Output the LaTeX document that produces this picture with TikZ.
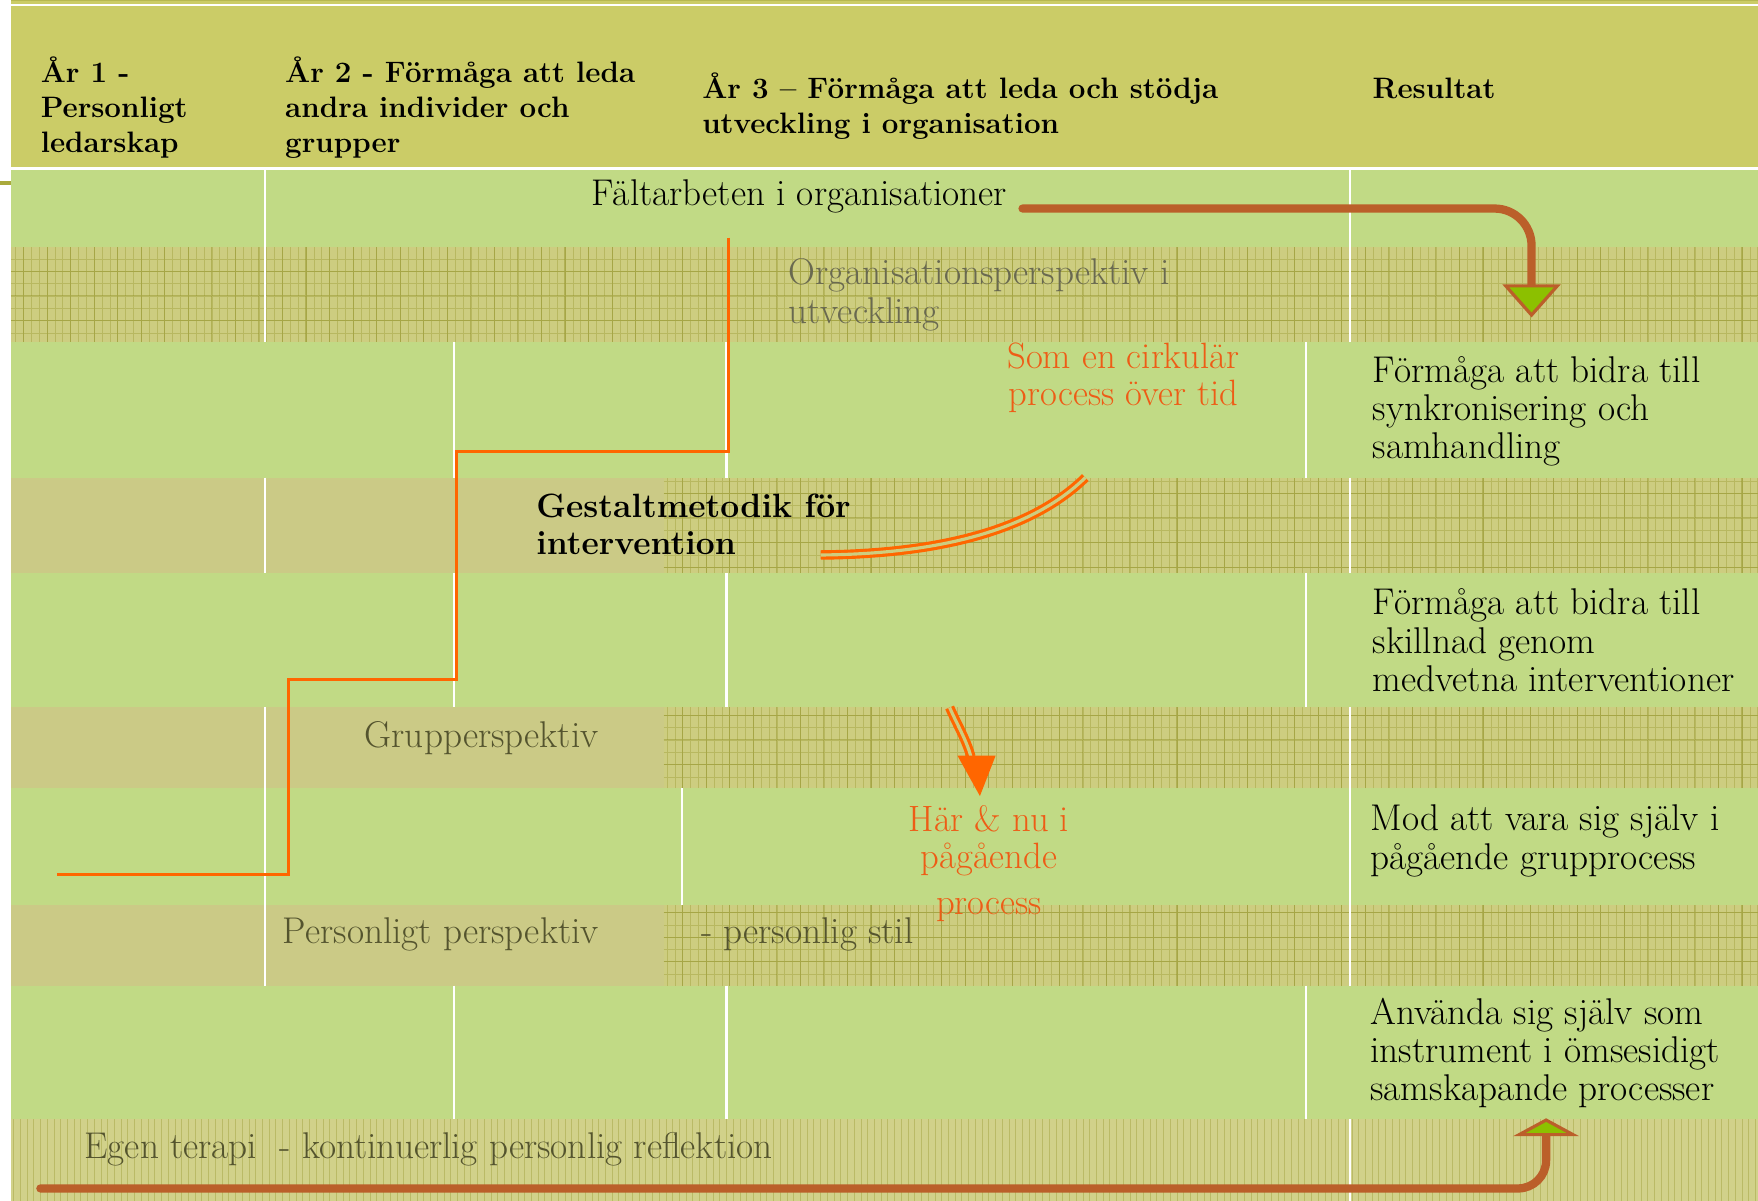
\documentclass[tikz,border=0pt]{standalone}
\usepackage{tikz}
\usetikzlibrary{arrows.meta, positioning}

\definecolor{headolive}{RGB}{203,204,103}
\definecolor{rowgreen}{RGB}{193,218,133}
\definecolor{rowkhaki}{RGB}{203,202,134}
\definecolor{hatchbase}{RGB}{205,205,128}
\definecolor{hatchline}{RGB}{150,150,45}
\definecolor{markolive}{RGB}{170,170,60}
\definecolor{pathbrown}{RGB}{187,95,42}
\definecolor{tipgreen}{RGB}{140,192,0}
\definecolor{stepor}{RGB}{255,102,0}
\definecolor{labelor}{RGB}{238,92,22}
\definecolor{persgray}{RGB}{84,84,46}
\definecolor{orggray}{RGB}{105,105,80}

\tikzset{
  hatch/.style={draw=hatchline, line width=0.3pt, opacity=0.38},
  hatchmajor/.style={draw=hatchline, line width=0.55pt, opacity=0.5},
  sep/.style={draw=white, line width=1.1pt},
  headtext/.style={anchor=west, align=left, inner sep=0pt, font=\bfseries\fontsize{15}{17.9}\selectfont},
  bodytext/.style={anchor=west, align=left, inner sep=0pt, font=\fontsize{18.9}{19.4}\selectfont},
  perstext/.style={bodytext, text=persgray},
  ortext/.style={align=center, inner sep=0pt, text=labelor, font=\fontsize{18.6}{18.8}\selectfont},
  thickpath/.style={draw=pathbrown, line width=4.2pt, line cap=round},
  tipbox/.style={fill=tipgreen, draw=pathbrown, line width=1.6pt, line join=miter},
  steppath/.style={draw=stepor, line width=1.4pt},
  ordouble/.style={draw=stepor, double=hatchbase, double distance=1.6pt, line width=1.6pt}
}

\begin{document}
\begin{tikzpicture}[x=0.02cm, y=-0.02cm]
      \useasboundingbox (0,0) rectangle (1568,1071);

      % Header band
      \fill[headolive] (10,0) rectangle (1568,149);
      \draw[white, line width=0.6pt] (10,4.5) -- (1568,4.5);
      \fill[markolive] (0,161) rectangle (10,165);

      % Plain rows
      \fill[rowgreen] (10,152) rectangle (1568,220);
      \fill[rowgreen] (10,305) rectangle (1568,426);
      \fill[rowgreen] (10,511) rectangle (1568,631);
      \fill[rowgreen] (10,703) rectangle (1568,807);
      \fill[rowgreen] (10,879) rectangle (1568,998);

      % Perspective rows
      \fill[hatchbase] (10,220) rectangle (1568,305);
      \fill[rowkhaki] (10,426) rectangle (592,511);
      \fill[hatchbase] (592,426) rectangle (1568,511);
      \fill[rowkhaki] (10,631) rectangle (592,703);
      \fill[hatchbase] (592,631) rectangle (1568,703);
      \fill[rowkhaki] (10,807) rectangle (592,879);
      \fill[hatchbase] (592,807) rectangle (1568,879);
      \fill[hatchbase!92!white] (10,998) rectangle (1568,1071);

      % Hatching
      \draw[hatch, xstep=0.14cm, ystep=0.22cm] (10,220) grid (1568,305);
      \draw[hatchmajor, xstep=0.42cm, ystep=0.44cm] (10,220) grid (1568,305);
      \draw[hatch, xstep=0.14cm, ystep=0.22cm] (592,426) grid (1568,511);
      \draw[hatchmajor, xstep=0.42cm, ystep=0.44cm] (592,426) grid (1568,511);
      \draw[hatch, xstep=0.14cm, ystep=0.22cm] (592,631) grid (1568,703);
      \draw[hatchmajor, xstep=0.42cm, ystep=0.44cm] (592,631) grid (1568,703);
      \draw[hatch, xstep=0.14cm, ystep=0.22cm] (592,807) grid (1568,879);
      \draw[hatchmajor, xstep=0.42cm, ystep=0.44cm] (592,807) grid (1568,879);
      \draw[hatch, xstep=0.12cm, ystep=50cm] (10,998) grid (1568,1071);

      % Column separators
      \draw[sep] (236,152) -- (236,305);
      \draw[sep] (1204,152) -- (1204,305);
      \draw[sep] (405,305) -- (405,426);
      \draw[sep] (648,305) -- (648,426);
      \draw[sep] (1165,305) -- (1165,426);
      \draw[sep] (236,426) -- (236,511);
      \draw[sep] (1204,426) -- (1204,511);
      \draw[sep] (405,511) -- (405,631);
      \draw[sep] (648,511) -- (648,631);
      \draw[sep] (1165,511) -- (1165,631);
      \draw[sep] (236,631) -- (236,807);
      \draw[sep] (608,703) -- (608,807);
      \draw[sep] (1204,631) -- (1204,879);
      \draw[sep] (236,807) -- (236,879);
      \draw[sep] (405,879) -- (405,998);
      \draw[sep] (648,879) -- (648,998);
      \draw[sep] (1165,879) -- (1165,998);
      \draw[sep] (1204,998) -- (1204,1071);

      % Header labels
      \node[headtext] (yr1) at (36,96) {År 1 -\\Personligt\\ledarskap};
      \node[headtext] (yr2) at (254,96) {År 2 - Förmåga att leda\\andra individer och\\grupper};
      \node[headtext] (yr3) at (626,95) {År 3 – Förmåga att leda och stödja\\utveckling i organisation};
      \node[headtext] (result) at (1224,79) {Resultat};

      % Row labels
      \node[bodytext] (falt) at (527,175) {Fältarbeten i organisationer};
      \node[bodytext, text=orggray] (orgper) at (703,263) {Organisationsperspektiv i\\utveckling};
      \node[bodytext, font=\bfseries\fontsize{17.1}{18.8}\selectfont] (gestalt) at (478,468) {Gestaltmetodik för\\intervention};
      \node[perstext] (grpper) at (325,658) {Grupperspektiv};
      \node[perstext] (persper) at (252,833) {Personligt perspektiv};
      \node[perstext] (stil) at (625,833) {- personlig stil};
      \node[perstext] (egen) at (75,1025) {Egen terapi~ - kontinuerlig personlig reflektion};

      % Results
      \node[bodytext] (res1) at (1224,367) {Förmåga att bidra till\\synkronisering och\\samhandling};
      \node[bodytext] (res2) at (1224,571) {Förmåga att bidra till\\skillnad genom\\medvetna interventioner};
      \node[bodytext] (res3) at (1222,750) {Mod att vara sig själv i\\pågående grupprocess};
      \node[bodytext] (res4) at (1222,939) {Använda sig själv som\\instrument i ömsesidigt\\samskapande processer};

      % Process labels
      \node[ortext] (circ) at (1002,337) {Som en cirkulär\\process över tid};
      \node[ortext] (harnu) at (882,770) {Här \& nu i\\pågående\\[4.5pt]process};

      % Define points
      \coordinate (fstart) at (912,186);
      \coordinate (fbend) at (1366,186);
      \coordinate (fbase) at (1366,255);
      \coordinate (ftip) at (1366,281);
      \coordinate (estart) at (36,1060);
      \coordinate (ebend) at (1379,1060);
      \coordinate (ebase) at (1379,1012);
      \coordinate (etip) at (1379,999);
      \coordinate (s1) at (650,212);
      \coordinate (s3) at (407,403);
      \coordinate (s5) at (257,606);
      \coordinate (s7) at (51,780);
      \coordinate (c1) at (732,495);
      \coordinate (c2) at (968,426);
      \coordinate (h1) at (847,631);
      \coordinate (h2) at (866,675);
      \coordinate (hl) at (854,674);
      \coordinate (hr) at (888,674);
      \coordinate (htip) at (874,710);

      % Brown paths to the results
      \draw[thickpath, rounded corners=0.66cm] (fstart) -- (fbend) -- (fbase);
      \draw[tipbox] (fbase) ++(-23,0) -- (ftip) -- ++(23,-26) -- cycle;
      \draw[thickpath, rounded corners=0.5cm] (estart) -- (ebend) -- (ebase);
      \draw[tipbox] (ebase) ++(-24,0) -- (etip) -- ++(24,13) -- cycle;

      % Orange steps and process arrows
      \draw[steppath] (s1) |- (s3) |- (s5) |- (s7);
      \draw[ordouble] (c1) .. controls (850,494) and (925,468) .. (c2);
      \draw[ordouble] (h1) .. controls (853,645) and (862,660) .. (h2);
      \fill[stepor] (hl) -- (hr) -- (htip) -- cycle;
  \end{tikzpicture}
\end{document}
